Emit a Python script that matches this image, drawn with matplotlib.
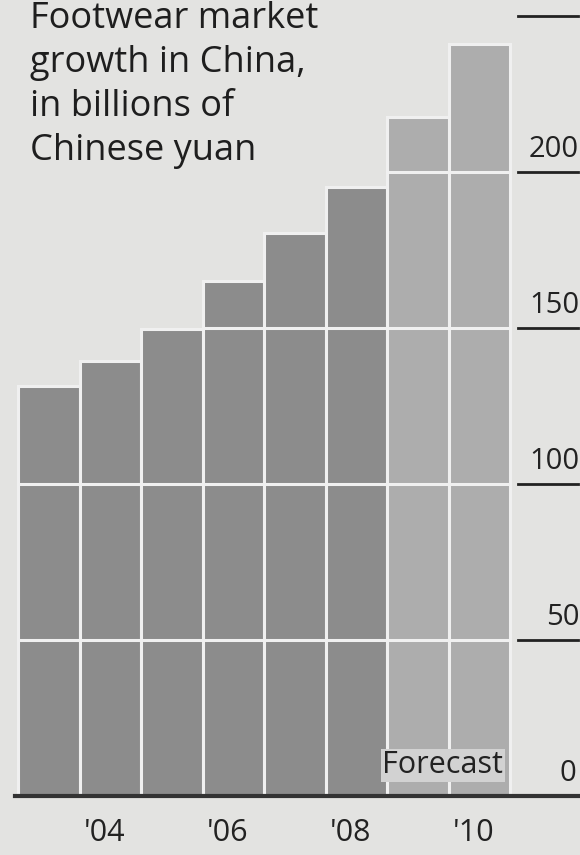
import matplotlib.pyplot as plt

# Footwear market in China, billions of yuan (2009-2010 forecast)
years = [2003, 2004, 2005, 2006, 2007, 2008, 2009, 2010]
values = [131.5, 139.5, 149.5, 165, 180.5, 195, 217.5, 241]
forecast = [False, False, False, False, False, False, True, True]
tick_years = [2004, 2006, 2008, 2010]
tick_labels = ["'04", "'06", "'08", "'10"]
y_ticks = [0, 50, 100, 150, 200, 250]

bg = '#e3e3e1'
bar_col = '#8c8c8c'
fc_col = '#adadad'
ink = '#222222'

fig = plt.figure(figsize=(5.8, 8.55), dpi=100, facecolor=bg)
ax = fig.add_axes([15 / 580, 59 / 855, 563 / 580, 796 / 855])
ax.set_facecolor(bg)

x = list(range(len(years)))
colors = [fc_col if f else bar_col for f in forecast]
ax.bar(x, values, width=1.0, color=colors, edgecolor='#f0f0f0', linewidth=2.2, zorder=2)

ax.set_xlim(-0.55, 8.6)
ax.set_ylim(0, 255)

# white gridlines, only visible inside the bars
for v in y_ticks[1:-1]:
    for xi, val in zip(x, values):
        if val > v:
            ax.plot([xi - 0.5, xi + 0.5], [v, v], color='#f0f0f0', lw=2.2, zorder=3)

# right-hand scale: numbers sitting on short rules
for v in y_ticks[1:]:
    ax.plot([7.62, 8.6], [v, v], color=ink, lw=2, zorder=3, clip_on=False)
    if v < 250:
        ax.text(8.62, v + 2.5, str(v), ha='right', va='bottom', fontsize=21,
                family='Open Sans', color=ink)
ax.text(8.57, 2.5, '0', ha='right', va='bottom', fontsize=21,
        family='Open Sans', color=ink)

# baseline
ax.plot([-0.55, 8.6], [0, 0], color='#333333', lw=3, zorder=4, clip_on=False)

ax.text(6.4, 5, 'Forecast', ha='center', va='bottom', fontsize=22,
        family='Open Sans', color=ink, zorder=5,
        bbox=dict(facecolor='#d2d2d2', edgecolor='none', pad=1))

for yr, lab in zip(tick_years, tick_labels):
    ax.text(years.index(yr) - 0.1, -7, lab, ha='center', va='top', fontsize=22,
            family='Open Sans', color=ink)

fig.text(30 / 580, 1 - 1 / 855, 'Footwear market\ngrowth in China,\nin billions of\nChinese yuan',
         ha='left', va='top', fontsize=26, family='Open Sans', color='#1e1e1e',
         linespacing=1.3)

for s in ax.spines.values():
    s.set_visible(False)
ax.set_xticks([])
ax.set_yticks([])

fig.savefig('out.png', dpi=100, facecolor=bg)
